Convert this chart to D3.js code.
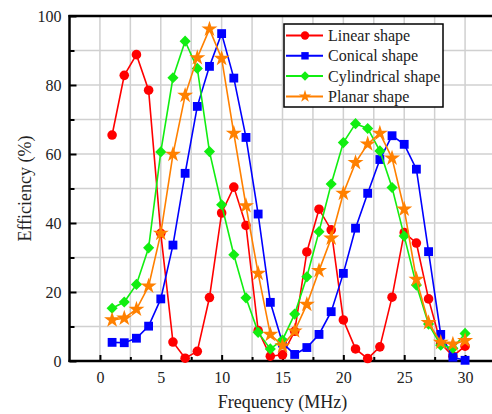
<!DOCTYPE html>
<html>
<head>
<meta charset="utf-8">
<script src="https://d3js.org/d3.v7.min.js"></script>
<style>
  body { margin: 0; background: #fff; }
  text { font-family: "Liberation Serif", "Times New Roman", serif; fill: #222; }
</style>
</head>
<body>
<div id="chart"></div>
<script>
// data
const freq = d3.range(1, 31);
const linear = [65.5, 82.8, 88.8, 78.5, 37, 5.5, 0.8, 2.8, 18.4, 42.9, 50.4, 39.3, 8.8, 1.4, 1.8,
                8.6, 31.6, 44, 38, 11.9, 3.5, 0.7, 4.1, 18.5, 37.2, 34.2, 18, 5.1, 1.4, 4.3];
const conical = [5.4, 5.3, 6.6, 10.1, 18, 33.6, 54.4, 73.8, 85.4, 94.9, 82, 64.8, 42.6, 17, 5.2,
                 1.9, 3.9, 7.7, 14.3, 25.4, 38.5, 48.6, 58.4, 65.3, 62.8, 55.6, 31.7, 7.7, 1.1, 0.2];
const cylindrical = [15.3, 17.1, 22.2, 32.8, 60.6, 82.1, 92.7, 84.8, 60.7, 45.3, 30.8, 18.3, 8.3, 3.5, 6.1,
                     13.6, 24.4, 37.5, 51.3, 63.3, 68.8, 67.4, 60.9, 50.3, 36.2, 22, 10.7, 4.6, 3.7, 8];
const planar = [11.9, 12.4, 15, 21.7, 37, 59.9, 77, 87.9, 96.2, 87.7, 66, 45, 25.4, 7.7, 4.4,
                8.7, 16.4, 26.2, 35.6, 48.6, 57.5, 62.9, 66, 58.8, 44, 23.7, 11.1, 5.4, 4.9, 5.9];
const names = ["Linear shape", "Conical shape", "Cylindrical shape", "Planar shape"];
const xTicks = [0, 5, 10, 15, 20, 25, 30];
const yTicks = [0, 20, 40, 60, 80, 100];

const series = [
  {name: names[0], values: linear, color: "#ff0000", symbol: d3.symbolCircle, size: 72, lsize: 55, rot: 0},
  {name: names[1], values: conical, color: "#0000ff", symbol: d3.symbolSquare, size: 78, lsize: 55, rot: 0},
  {name: names[2], values: cylindrical, color: "#11ee11", symbol: d3.symbolSquare, size: 62, lsize: 45, rot: 45},
  {name: names[3], values: planar, color: "#ff8000", symbol: d3.symbolStar, size: 80, lsize: 48, rot: 0}
];

const W = 492, H = 414;
const FONT = "'Liberation Serif', 'Times New Roman', serif";
const svg = d3.select("#chart").append("svg")
  .attr("width", W).attr("height", H);

const x = d3.scaleLinear().domain([-2.5, 32.5]).range([69.5, 495.5]);
const y = d3.scaleLinear().domain([0, 100]).range([361, 16]);

// grid
svg.append("g").selectAll("line")
  .data(d3.range(0, 32.5, 2.5))
  .join("line")
    .attr("x1", d => x(d)).attr("x2", d => x(d))
    .attr("y1", y(0)).attr("y2", y(100))
    .attr("stroke", "#d0d0d0").attr("stroke-width", 1.5);
svg.append("g").selectAll("line")
  .data(d3.range(10, 100, 10))
  .join("line")
    .attr("x1", x(-2.5)).attr("x2", x(32.5))
    .attr("y1", d => y(d)).attr("y2", d => y(d))
    .attr("stroke", "#d0d0d0").attr("stroke-width", 1.5);

// axes, ticks pointing inward
const xAxis = svg.append("g").attr("transform", `translate(0,${y(0)})`)
  .call(d3.axisTop(x).tickValues(d3.range(0, 32.5, 2.5)).tickSize(4).tickFormat(""));
xAxis.selectAll(".tick line").attr("stroke-width", 2)
  .attr("y2", d => d % 5 === 0 ? -6 : -4);
xAxis.select(".domain").remove();

const xLab = svg.append("g").attr("transform", `translate(0,${y(0)})`)
  .call(d3.axisBottom(x).tickValues(xTicks).tickSize(0).tickPadding(11));
xLab.select(".domain").remove();
xLab.attr("font-family", FONT).attr("font-size", 16);
xLab.selectAll("text").attr("fill", "#222");

const yAxis = svg.append("g").attr("transform", `translate(${x(-2.5)},0)`)
  .call(d3.axisRight(y).tickValues(d3.range(0, 101, 10)).tickSize(4).tickFormat(""));
yAxis.selectAll(".tick line").attr("stroke-width", 2)
  .attr("x2", d => d % 20 === 0 ? 7 : 5);
yAxis.select(".domain").remove();

const yLab = svg.append("g").attr("transform", `translate(${x(-2.5)},0)`)
  .call(d3.axisLeft(y).tickValues(yTicks).tickSize(0).tickPadding(8));
yLab.select(".domain").remove();
yLab.attr("font-family", FONT).attr("font-size", 16);
yLab.selectAll("text").attr("fill", "#222");

// frame
svg.append("line").attr("x1", x(-2.5)).attr("x2", x(-2.5)).attr("y1", y(100) - 1).attr("y2", y(0) + 1)
  .attr("stroke", "#000").attr("stroke-width", 2.5);
svg.append("line").attr("x1", x(-2.5) - 1).attr("x2", W).attr("y1", y(0)).attr("y2", y(0))
  .attr("stroke", "#000").attr("stroke-width", 2.5);
svg.append("line").attr("x1", x(-2.5) - 1).attr("x2", W).attr("y1", y(100)).attr("y2", y(100))
  .attr("stroke", "#000").attr("stroke-width", 2.5);

// series
const line = d3.line().x((d, i) => x(freq[i])).y(d => y(d));
series.forEach(s => {
  const g = svg.append("g");
  g.append("path").datum(s.values)
    .attr("fill", "none").attr("stroke", s.color).attr("stroke-width", 1.6)
    .attr("d", line);
  g.selectAll("path.pt").data(s.values).join("path")
    .attr("class", "pt")
    .attr("transform", (d, i) => `translate(${x(freq[i])},${y(d)}) rotate(${s.rot})`)
    .attr("d", d3.symbol().type(s.symbol).size(s.size))
    .attr("fill", s.color);
});

// axis titles
svg.append("text").attr("x", x(15)).attr("y", 408)
  .attr("text-anchor", "middle").style("font-size", "18px").text("Frequency (MHz)");
svg.append("text").attr("transform", `translate(31,${y(50)}) rotate(-90)`)
  .attr("text-anchor", "middle").style("font-size", "18px").text("Efficiency (%)");

// legend
const lg = svg.append("g").attr("transform", "translate(284,24)");
lg.append("rect").attr("width", 159).attr("height", 83)
  .attr("fill", "#fff").attr("stroke", "#000").attr("stroke-width", 1.5);
series.forEach((s, i) => {
  const row = lg.append("g").attr("transform", `translate(0,${11.5 + i * 20.3})`);
  row.append("line").attr("x1", 2).attr("x2", 39).attr("stroke", s.color).attr("stroke-width", 2);
  row.append("path").attr("transform", `translate(21,0) rotate(${s.rot})`)
    .attr("d", d3.symbol().type(s.symbol).size(s.lsize)).attr("fill", s.color);
  row.append("text").attr("x", 44).attr("y", 5.5).style("font-size", "16px").text(s.name);
});
</script>
</body>
</html>
